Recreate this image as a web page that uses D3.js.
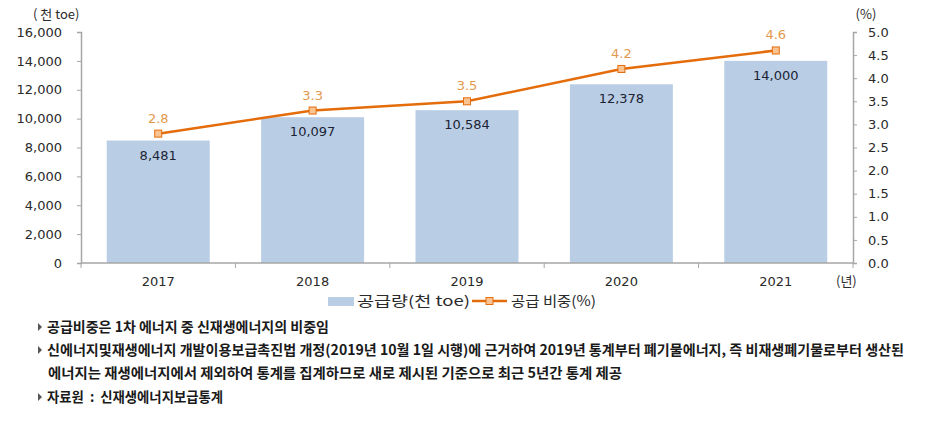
<!DOCTYPE html>
<html><head><meta charset="utf-8">
<script src="https://cdn.jsdelivr.net/npm/d3@7"></script>
<style>body{margin:0;background:#fff}svg{display:block}text.note{white-space:pre}</style>
</head><body><div id="c"></div>
<script>
const years = ["2017","2018","2019","2020","2021"];
const supply = [8481, 10097, 10584, 12378, 14000];
const share = [2.8, 3.3, 3.5, 4.2, 4.6];
const leftTicks = [0,2000,4000,6000,8000,10000,12000,14000,16000];
const rightTicks = [0,0.5,1,1.5,2,2.5,3,3.5,4,4.5,5];
const legendLabels = ["공급량(천 toe)", "공급 비중(%)"];
const notes = [
  "공급비중은 1차 에너지 중 신재생에너지의 비중임",
  "신에너지및재생에너지 개발이용보급촉진법 개정(2019년 10월 1일 시행)에 근거하여 2019년 통계부터 폐기물에너지, 즉 비재생폐기물로부터 생산된",
  "에너지는 재생에너지에서 제외하여 통계를 집계하므로 새로 제시된 기준으로 최근 5년간 통계 제공",
  "자료원  :  신재생에너지보급통계"
];
const noteBullet = [true, true, false, true];
const noteWidths = [282, 857, 574, 176];

const W=947,H=438;
const svg=d3.select("#c").append("svg").attr("width",W).attr("height",H);
const NUM="DejaVu Sans, sans-serif";
const KR="'Noto Sans CJK KR', sans-serif";
const L=81,R=853,T=32,B=263;
const x=d3.scaleBand().domain(years).range([L,R]).paddingInner(0.333).paddingOuter(0.1667);
const yL=d3.scaleLinear().domain([0,16000]).range([B,T]);
const yR=d3.scaleLinear().domain([0,5]).range([B,T]);
const axisColor="#a6a6a6";
const txt="#2a2a2a";

// bars
svg.selectAll("rect.bar").data(years).enter().append("rect")
  .attr("x",d=>x(d)).attr("width",x.bandwidth())
  .attr("y",(d,i)=>yL(supply[i])).attr("height",(d,i)=>B-yL(supply[i]))
  .attr("fill","#b9cde5");
svg.selectAll("text.bl").data(years).enter().append("text")
  .attr("x",d=>x(d)+x.bandwidth()/2).attr("y",(d,i)=>yL(supply[i])+19)
  .attr("text-anchor","middle").attr("font-family",NUM).attr("font-size",13)
  .attr("fill","#1c2433").text((d,i)=>d3.format(",")(supply[i]));

// left axis
const gl=svg.append("g").attr("transform",`translate(${L},0)`)
  .call(d3.axisLeft(yL).tickValues(leftTicks).tickFormat(d3.format(",")).tickSize(4).tickPadding(15));
gl.select(".domain").attr("stroke",axisColor).attr("stroke-width",1.5);
gl.selectAll(".tick line").attr("stroke",axisColor);
gl.selectAll("text").attr("font-family",NUM).attr("font-size",13).attr("fill",txt);

// right axis
const gr=svg.append("g").attr("transform",`translate(${R},0)`)
  .call(d3.axisRight(yR).tickValues(rightTicks).tickFormat(d3.format(".1f")).tickSize(4).tickPadding(11));
gr.select(".domain").attr("stroke",axisColor).attr("stroke-width",1.5);
gr.selectAll(".tick line").attr("stroke",axisColor);
gr.selectAll("text").attr("font-family",NUM).attr("font-size",13).attr("fill",txt);

// x axis
svg.append("line").attr("x1",L).attr("x2",R).attr("y1",B).attr("y2",B).attr("stroke",axisColor).attr("stroke-width",1.5);
const step=x.step();
const bounds=years.map(d=>x(d)-step*x.paddingInner()/2).concat([R]);
svg.selectAll("line.xt").data(bounds).enter().append("line")
  .attr("x1",d=>d).attr("x2",d=>d).attr("y1",B).attr("y2",B+5).attr("stroke",axisColor);
svg.selectAll("text.xl").data(years).enter().append("text")
  .attr("x",d=>x(d)+x.bandwidth()/2).attr("y",286).attr("text-anchor","middle")
  .attr("font-family",NUM).attr("font-size",13).attr("fill",txt).text(d=>d);

// line
const px=(d,i)=>x(years[i])+x.bandwidth()/2;
svg.append("path").datum(share)
  .attr("d",d3.line().x(px).y(d=>yR(d)))
  .attr("fill","none").attr("stroke","#e46c0a").attr("stroke-width",2.5);
svg.selectAll("rect.mk").data(share).enter().append("rect")
  .attr("x",(d,i)=>px(d,i)-3.5).attr("y",d=>yR(d)-3.5).attr("width",7).attr("height",7)
  .attr("fill","#f9c392").attr("stroke","#e46c0a").attr("stroke-width",1);
svg.selectAll("text.ll").data(share).enter().append("text")
  .attr("x",px).attr("y",d=>yR(d)-11).attr("text-anchor","middle")
  .attr("font-family",NUM).attr("font-size",13).attr("fill","#e3994d").text(d=>d.toFixed(1));

// units
svg.append("text").attr("x",33).attr("y",19).attr("font-family",KR).attr("font-size",13).attr("fill",txt).text("( 천 toe)");
svg.append("text").attr("x",866).attr("y",19).attr("text-anchor","middle").attr("font-family",KR).attr("font-size",13).attr("fill",txt).text("(%)");
svg.append("text").attr("x",836).attr("y",286).attr("font-family",KR).attr("font-size",13).attr("fill",txt).text("(년)");

// legend
svg.append("rect").attr("x",328).attr("y",297).attr("width",26).attr("height",9).attr("fill","#b9cde5");
svg.append("text").attr("x",357).attr("y",306).attr("font-family",KR).attr("font-size",14).attr("fill",txt).attr("textLength",113).attr("lengthAdjust","spacingAndGlyphs").text(legendLabels[0]);
svg.append("line").attr("x1",472).attr("x2",507).attr("y1",301).attr("y2",301).attr("stroke","#e46c0a").attr("stroke-width",2.5);
svg.append("rect").attr("x",486).attr("y",297.5).attr("width",7).attr("height",7).attr("fill","#f9c392").attr("stroke","#e46c0a");
svg.append("text").attr("x",511).attr("y",306).attr("font-family",KR).attr("font-size",14).attr("fill",txt).attr("textLength",85).attr("lengthAdjust","spacingAndGlyphs").text(legendLabels[1]);

// notes
const noteY=[327,350,373,397];
notes.forEach((t,i)=>{
  if(noteBullet[i]) svg.append("path").attr("d",`M38,${noteY[i]-4}L42,${noteY[i]}L38,${noteY[i]+4}Z`).attr("fill","#555");
  svg.append("text").attr("class","note").attr("x",i===2?48:47).attr("y",noteY[i]+5).attr("font-family",KR).attr("font-weight",700)
    .attr("font-size",14).attr("fill","#1a1a1a").attr("textLength",noteWidths[i]).attr("lengthAdjust","spacingAndGlyphs").text(t);
});
</script></body></html>
